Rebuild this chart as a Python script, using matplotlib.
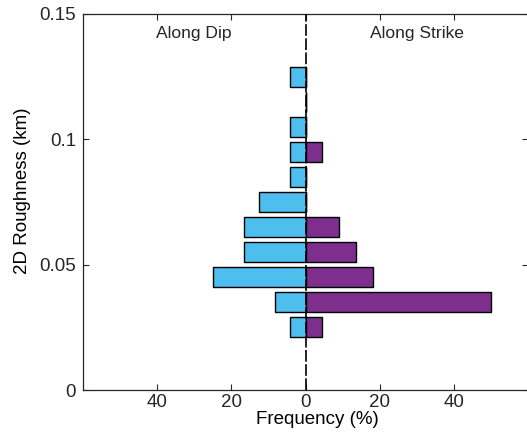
import matplotlib
matplotlib.use("Agg")
import matplotlib.pyplot as plt
import numpy as np

plt.rcParams['font.family'] = ['Liberation Sans', 'DejaVu Sans']

# Bin centres (km)
roughness = [0.025, 0.035, 0.045, 0.055, 0.065, 0.075, 0.085, 0.095, 0.105, 0.115, 0.125]
# Frequencies (%)
along_dip = [4.17, 8.33, 25.0, 16.67, 16.67, 12.5, 4.17, 4.17, 4.17, 0.0, 4.17]
along_strike = [4.55, 50.0, 18.18, 13.64, 9.09, 0.0, 0.0, 4.55, 0.0, 0.0, 0.0]
xtick_vals = [-40, -20, 0, 20, 40]
xtick_labels = ['40', '20', '0', '20', '40']
ytick_vals = [0, 0.05, 0.1, 0.15]
ytick_labels = ['0', '0.05', '0.1', '0.15']

dip_color = '#4DBEEE'
strike_color = '#7E2F8E'
axc = '#262626'

fig = plt.figure(figsize=(5.27, 4.36), dpi=100)
ax = fig.add_axes([83/527, 46/436, 445/527, 376/436])

y = np.array(roughness)
ax.barh(y, -np.array(along_dip), height=0.008, color=dip_color,
        edgecolor='black', linewidth=1.0, zorder=2)
ax.barh(y, np.array(along_strike), height=0.008, color=strike_color,
        edgecolor='black', linewidth=1.0, zorder=2)

ax.plot([0, 0], [0, 0.15], color='black', linestyle=(0, (7, 1.5)), linewidth=1.2, zorder=3)

ax.set_xlim(-60, 60)
ax.set_ylim(0, 0.15)
ax.set_xticks(xtick_vals)
ax.set_xticklabels(xtick_labels)
ax.set_yticks(ytick_vals)
ax.set_yticklabels(ytick_labels)
ax.tick_params(direction='in', top=True, right=True, length=4, width=0.8,
               labelsize=13.5, colors=axc)
ax.tick_params(axis='x', pad=3)
ax.tick_params(axis='y', pad=5)
for s in ax.spines.values():
    s.set_color(axc)
    s.set_linewidth(0.9)

ax.text(-30, 0.1422, 'Along Dip', ha='center', va='center', fontsize=12.6, color=axc)
ax.text(30, 0.1422, 'Along Strike', ha='center', va='center', fontsize=12.6, color=axc)

ax.set_xlabel('Frequency (%)', fontsize=13.5, color='black', labelpad=0)
ax.set_ylabel('2D Roughness (km)', fontsize=13.5, color='black', labelpad=6)
ax.xaxis.label.set_x(0.526)
ax.yaxis.label.set_y(0.53)

fig.savefig('out.png', dpi=100)
